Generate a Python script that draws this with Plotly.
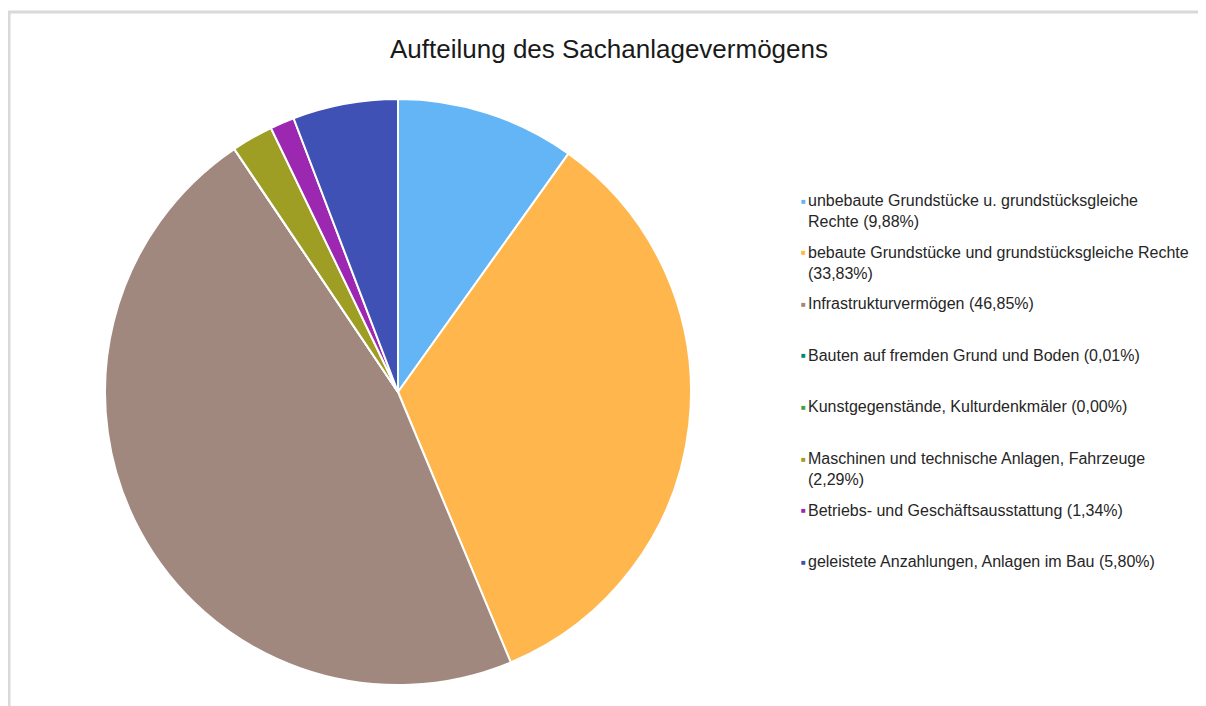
import plotly.graph_objects as go

# Anteile am Sachanlagevermögen (in %)
labels = [
    "unbebaute Grundstücke u. grundstücksgleiche<br>Rechte (9,88%)",
    "bebaute Grundstücke und grundstücksgleiche Rechte<br>(33,83%)",
    "Infrastrukturvermögen (46,85%)",
    "Bauten auf fremden Grund und Boden (0,01%)",
    "Kunstgegenstände, Kulturdenkmäler (0,00%)",
    "Maschinen und technische Anlagen, Fahrzeuge<br>(2,29%)",
    "Betriebs- und Geschäftsausstattung (1,34%)",
    "geleistete Anzahlungen, Anlagen im Bau (5,80%)",
]
values = [9.88, 33.83, 46.85, 0.01, 0.00, 2.29, 1.34, 5.80]
colors = ["#64B5F6", "#FFB74D", "#A1887F", "#00897B",
          "#43A047", "#9E9D24", "#9C27B0", "#3F51B5"]

W, H = 1206, 706
OFF = 8  # page body margin
FONT = "Liberation Sans, Arial, sans-serif"


def px(x):
    return (x - OFF) / W


def py(y):
    return 1 - (y - OFF) / H


fig = go.Figure()
fig.add_trace(go.Pie(
    labels=labels, values=values,
    marker=dict(colors=colors, line=dict(color="white", width=2)),
    sort=False, direction="clockwise", rotation=0,
    textinfo="none", hoverinfo="label",
    domain=dict(x=[px(105), px(691)], y=[py(686), py(98)]),
    showlegend=False,
))

# legend by hand, so the spacing matches
ann = []
for i, (lab, col) in enumerate(zip(labels, colors)):
    yc = 201 + i * 51.6
    ann.append(dict(x=px(803), y=py(yc), xref="paper", yref="paper",
                    text="■", showarrow=False, xanchor="center", yanchor="middle",
                    font=dict(size=8, color=col, family=FONT)))
    ann.append(dict(x=px(806), y=py(yc - 11), xref="paper", yref="paper",
                    text=lab, showarrow=False, xanchor="left", yanchor="top",
                    align="left", font=dict(size=16, color="#262626", family=FONT)))

fig.update_layout(
    width=W, height=H,
    margin=dict(l=0, r=0, t=0, b=0),
    paper_bgcolor="white", plot_bgcolor="white",
    title=dict(text="Aufteilung des Sachanlagevermögens", x=px(609), xanchor="center",
               y=py(49), yanchor="middle",
               font=dict(size=26, color="#1a1a1a", family=FONT)),
    annotations=ann,
    shapes=[dict(type="rect", xref="paper", yref="paper",
                 x0=px(9), x1=1.02, y0=-0.02, y1=py(12),
                 line=dict(color="#D9D9D9", width=3))],
)

fig.write_html("out.html")
